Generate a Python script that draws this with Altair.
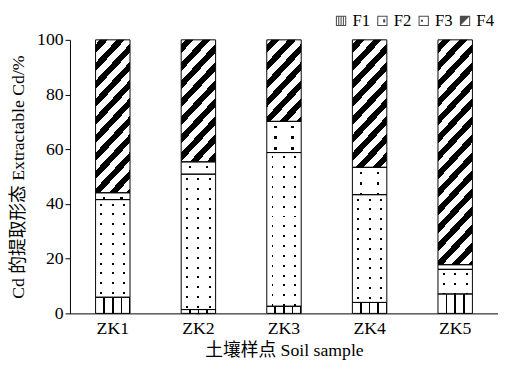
import math
import altair as alt
import pandas as pd

# ---- data ----
samples = ["ZK1", "ZK2", "ZK3", "ZK4", "ZK5"]
forms = ["F1", "F2", "F3", "F4"]
f1 = [5.9, 1.4, 2.6, 4.0, 7.1]
f2 = [35.7, 49.5, 56.2, 39.4, 9.0]
f3 = [2.5, 4.5, 11.4, 10.0, 1.7]
f4 = [55.9, 44.6, 29.8, 46.6, 82.2]
y_ticks = [0, 20, 40, 60, 80, 100]

# ---- layout / style ----
W, H = 435, 278
BAR = 35
FONT = "Liberation Serif, Noto Sans CJK SC"
WHITE, BLACK, CLEAR = "#ffffff", "#000000", "rgba(255,255,255,0)"

rows = []
for i, s in enumerate(samples):
    lo = 0.0
    for f, vals in zip(forms, [f1, f2, f3, f4]):
        v = vals[i]
        rows.append(dict(sample=s, form=f, lo=lo, hi=lo + v, mid=lo + v / 2))
        lo += v
df = pd.DataFrame(rows)


def band_stops(length, period, on, on_color, off_color, phase):
    stops = [{"offset": 0, "color": off_color}]
    c = phase
    last = 0.0
    while c - on / 2 < length:
        s = max(c - on / 2, last) / length
        e = min(c + on / 2, length) / length
        s, e = round(s, 5), round(e, 5)
        stops += [
            {"offset": s, "color": off_color},
            {"offset": s, "color": on_color},
            {"offset": e, "color": on_color},
            {"offset": e, "color": off_color},
        ]
        last = min(c + on / 2, length)
        c += period
    stops.append({"offset": 1, "color": off_color})
    return stops


def lin(x2, y2, stops):
    return {"gradient": "linear", "x1": 0, "y1": 0, "x2": x2, "y2": y2, "stops": stops}


def diag(w, h, period, on, theta_deg=45):
    t = math.radians(theta_deg)
    r = h * math.cos(t) / (w * math.sin(t))
    a = (1 + r) / (1 + r * r)
    b = r * a
    D = w * math.sin(t) + h * math.cos(t)
    return lin(round(a, 6), round(b, 6), band_stops(D, period, on, BLACK, WHITE, period / 2))


xscale = alt.Scale(domain=samples, paddingInner=0, paddingOuter=0)
yscale = alt.Scale(domain=[0, 100], nice=False)
xaxis = alt.Axis(title="土壤样点 Soil sample", labelAngle=0, ticks=False,
                 labelPadding=6, titlePadding=5)
yaxis = alt.Axis(title="Cd 的提取形态 Extractable Cd/%", values=y_ticks,
                 tickSize=5, labelPadding=2, titlePadding=9)
X = alt.X("sample:N", scale=xscale, axis=xaxis)
Y = alt.Y("lo:Q", scale=yscale, axis=yaxis)
Y2 = alt.Y2("hi:Q")

base = alt.Chart(df)

frame = "M-1,-1H1V1H-1Z M-0.8,-0.8V0.8H0.8V-0.8Z"
paths = [
    frame + " M-0.55,-0.8H-0.35V0.8H-0.55Z M-0.1,-0.8H0.1V0.8H-0.1Z M0.35,-0.8H0.55V0.8H0.35Z",
    frame + " M0.15,-0.3H0.55V0.3H0.15Z",
    frame + " M-0.55,-0.25H-0.15V0.15H-0.55Z",
    frame + " M-0.8,-0.8H0.8L-0.8,0.8Z",
]

legend_layer = base.mark_point(filled=True, color="black").encode(
    x=X,
    y=alt.Y("mid:Q", scale=yscale, axis=yaxis),
    shape=alt.Shape(
        "form:N",
        scale=alt.Scale(domain=forms, range=paths),
        legend=alt.Legend(
            orient="none", legendX=267, legendY=-28, direction="horizontal",
            title=None, labelFont=FONT, labelFontSize=17, labelColor="black",
            symbolSize=110, symbolStrokeWidth=0, labelOffset=3,
            columnPadding=4, padding=0,
        ),
    ),
)

layers = [legend_layer]

# F1: vertical lines
layers.append(
    base.transform_filter(alt.datum.form == "F1")
    .mark_bar(size=BAR, strokeWidth=0,
              fill=lin(1, 0, band_stops(BAR, 8.75, 1.8, BLACK, WHITE, 8.75)))
    .encode(x=X, y=Y, y2=Y2)
)
# F2 / F3 dot columns
layers.append(
    base.transform_filter(alt.datum.form == "F2")
    .mark_bar(size=BAR, strokeWidth=0,
              fill=lin(1, 0, band_stops(BAR, 11.67, 2.0, BLACK, WHITE, 5.83)))
    .encode(x=X, y=Y, y2=Y2)
)
layers.append(
    base.transform_filter(alt.datum.form == "F3")
    .mark_bar(size=BAR, strokeWidth=0,
              fill=lin(1, 0, band_stops(BAR, 17.5, 2.5, BLACK, WHITE, 8.75)))
    .encode(x=X, y=Y, y2=Y2)
)

for i, s in enumerate(samples):
    seg = df[df["sample"] == s].set_index("form")
    for f, period, on in [("F2", 10.0, 2.0), ("F3", 11.0, 2.5)]:
        h = (seg.loc[f, "hi"] - seg.loc[f, "lo"]) * H / 100.0
        layers.append(
            base.transform_filter((alt.datum.form == f) & (alt.datum.sample == s))
            .mark_bar(size=BAR, strokeWidth=0,
                      fill=lin(0, 1, band_stops(h, period, on, CLEAR, WHITE, period / 2)))
            .encode(x=X, y=Y, y2=Y2)
        )
    h4 = (seg.loc["F4", "hi"] - seg.loc["F4", "lo"]) * H / 100.0
    layers.append(
        base.transform_filter((alt.datum.form == "F4") & (alt.datum.sample == s))
        .mark_bar(size=BAR, strokeWidth=0, fill=diag(BAR, h4, 12.5, 6.0, 47))
        .encode(x=X, y=Y, y2=Y2)
    )

# outlines
layers.append(
    base.mark_bar(size=BAR, fillOpacity=0, stroke="black", strokeWidth=1)
    .encode(x=X, y=Y, y2=Y2)
)

chart = (
    alt.layer(*layers)
    .properties(width=W, height=H,
                autosize=alt.AutoSizeParams(type="none"),
                padding={"left": 63, "top": 29.5, "right": 0, "bottom": 45})
    .configure_view(strokeWidth=0)
    .configure_axis(labelFont=FONT, titleFont=FONT, labelFontSize=18, titleFontSize=18,
                    labelColor="black", titleColor="black", titleFontWeight="normal",
                    domainColor="black", tickColor="black", grid=False, domainWidth=1)
    .configure_legend(labelFont=FONT, labelFontSize=17, labelColor="black",
                      symbolSize=110, symbolStrokeWidth=0, labelOffset=3,
                      columnPadding=4, padding=0)
)

chart.save("out.html", embed_options={"renderer": "svg", "actions": False})
